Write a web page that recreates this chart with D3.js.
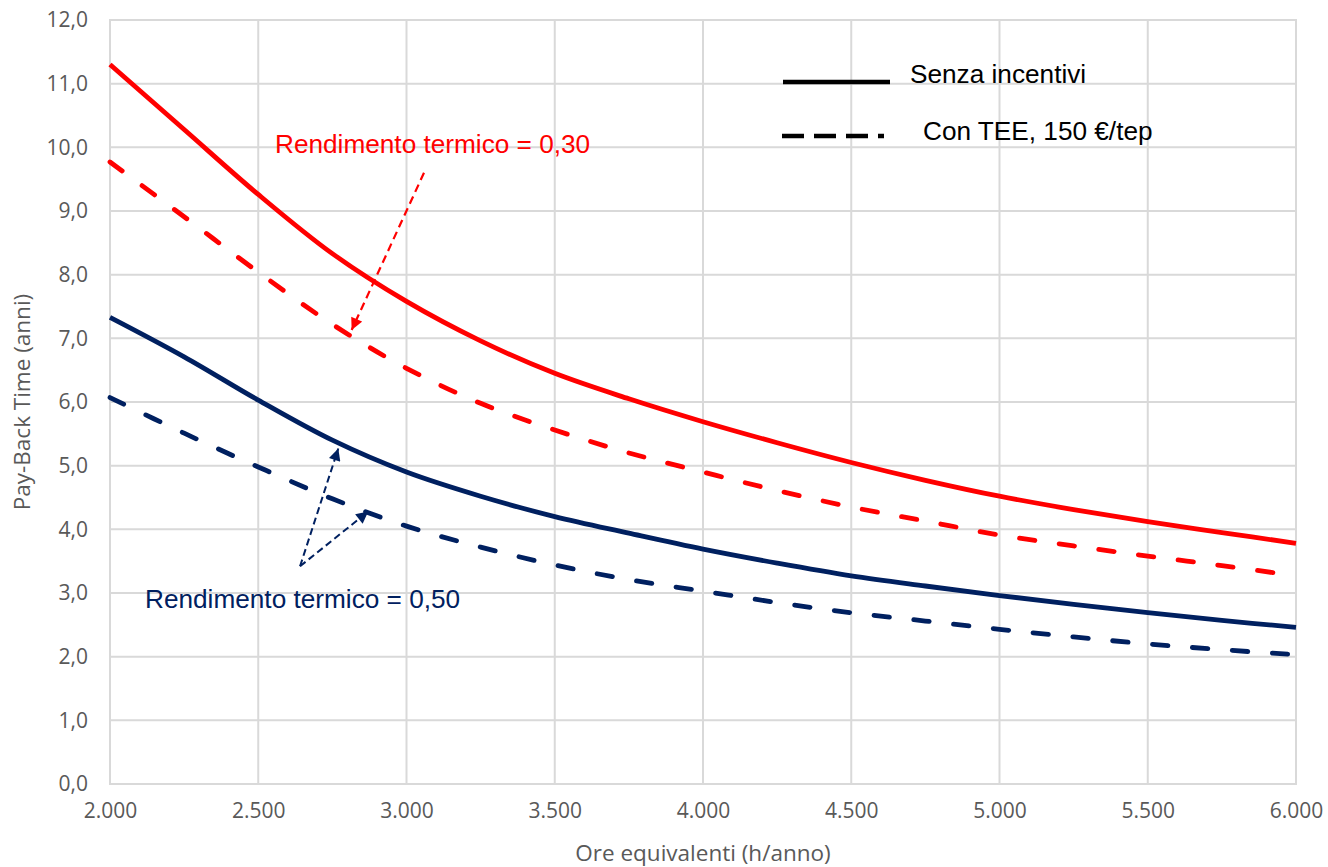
<!DOCTYPE html>
<html>
<head>
<meta charset="utf-8">
<script src="https://cdn.jsdelivr.net/npm/d3@7/dist/d3.min.js"></script>
<style>
  html, body { margin: 0; padding: 0; background: #fff; }
  svg { display: block; }
  .tick-label { font-family: "Open Sans", sans-serif; fill: #595959; }
  .note { font-family: "Liberation Sans", Arial, sans-serif; }
</style>
</head>
<body>
<svg id="chart" width="1328" height="867"></svg>
<script>
// Ore equivalenti annue (h/anno)
const hours = [2000, 2250, 2500, 2750, 3000, 3250, 3500, 3750, 4000, 4250, 4500, 4750, 5000, 5250, 5500, 5750, 6000];

// Pay-back time (anni) — rendimento termico 0,30
const pbt30Senza = [11.30, 10.28, 9.26, 8.33, 7.58, 6.96, 6.45, 6.05, 5.69, 5.36, 5.05, 4.77, 4.52, 4.31, 4.12, 3.95, 3.78];
const pbt30Tee   = [9.77, 8.91, 8.04, 7.22, 6.53, 5.98, 5.56, 5.20, 4.90, 4.61, 4.35, 4.13, 3.91, 3.74, 3.58, 3.43, 3.27];

// Pay-back time (anni) — rendimento termico 0,50
const pbt50Senza = [7.33, 6.71, 6.03, 5.40, 4.90, 4.52, 4.20, 3.94, 3.69, 3.47, 3.27, 3.11, 2.96, 2.82, 2.69, 2.57, 2.46];
const pbt50Tee   = [6.07, 5.51, 4.98, 4.48, 4.05, 3.72, 3.44, 3.21, 3.03, 2.85, 2.69, 2.56, 2.43, 2.31, 2.20, 2.11, 2.03];

// Tick values
const xTicks = [2000, 2500, 3000, 3500, 4000, 4500, 5000, 5500, 6000];
const yTicks = [0, 1, 2, 3, 4, 5, 6, 7, 8, 9, 10, 11, 12];

// Legend and annotation text
const legendLabels = ["Senza incentivi", "Con TEE, 150 €/tep"];
const noteLabels = ["Rendimento termico = 0,30", "Rendimento termico = 0,50"];
const xTitle = "Ore equivalenti (h/anno)";
const yTitle = "Pay-Back Time (anni)";

// Annotation arrows in data units: [from hours, from years, to hours, to years]
const arrows30 = [[3059, 9.6, 2815, 7.13]];
const arrows50 = [[2641, 3.42, 2770, 5.27], [2641, 3.42, 2871, 4.28]];

const RED = "#ff0000";
const NAVY = "#002060";

const itLocale = d3.formatLocale({ decimal: ",", thousands: ".", grouping: [3], currency: ["€", ""] });
const fmtX = itLocale.format(",.0f");
const fmtY = itLocale.format(".1f");

const svg = d3.select("#chart");
const x = d3.scaleLinear().domain([2000, 6000]).range([110, 1296]);
const y = d3.scaleLinear().domain([0, 12]).range([784, 20]);

// Grid
const grid = svg.append("g");
grid.selectAll("line.v").data(xTicks).join("line")
  .attr("x1", d => x(d)).attr("x2", d => x(d))
  .attr("y1", y(0)).attr("y2", y(12))
  .attr("stroke", "#d9d9d9").attr("stroke-width", 2);
grid.selectAll("line.h").data(yTicks).join("line")
  .attr("x1", x(2000) - 1).attr("x2", x(6000) + 1)
  .attr("y1", d => y(d)).attr("y2", d => y(d))
  .attr("stroke", "#d9d9d9").attr("stroke-width", 2);

// Axes (labels only; lines come from the grid)
const xAxis = svg.append("g").attr("transform", `translate(0,${y(0)})`)
  .call(d3.axisBottom(x).tickValues(xTicks).tickFormat(fmtX).tickSize(0).tickPadding(19));
const yAxis = svg.append("g").attr("transform", `translate(${x(2000)},0)`)
  .call(d3.axisLeft(y).tickValues(yTicks).tickFormat(fmtY).tickSize(0).tickPadding(22));
[xAxis, yAxis].forEach(a => {
  a.select(".domain").remove();
  a.selectAll("text").attr("class", "tick-label").attr("font-size", 21);
});

svg.append("text").attr("class", "tick-label")
  .attr("x", (x(2000) + x(6000)) / 2).attr("y", 861)
  .attr("text-anchor", "middle").attr("font-size", 22.5).text(xTitle);
svg.append("text").attr("class", "tick-label")
  .attr("transform", `translate(30,${(y(0) + y(12)) / 2}) rotate(-90)`)
  .attr("text-anchor", "middle").attr("font-size", 22.5).text(yTitle);

// Curves
const line = d3.line().x(d => x(d[0])).y(d => y(d[1])).curve(d3.curveCatmullRom.alpha(0.5));
const series = [
  { values: pbt30Senza, color: RED, dashed: false },
  { values: pbt30Tee, color: RED, dashed: true },
  { values: pbt50Senza, color: NAVY, dashed: false },
  { values: pbt50Tee, color: NAVY, dashed: true }
];
svg.append("g").selectAll("path").data(series).join("path")
  .attr("d", s => line(hours.map((h, i) => [h, s.values[i]])))
  .attr("fill", "none")
  .attr("stroke", s => s.color)
  .attr("stroke-width", 4.8)
  .attr("stroke-linecap", s => s.dashed ? "round" : "butt")
  .attr("stroke-dasharray", s => s.dashed ? "15.5,24.5" : null);

// Arrow heads
const defs = svg.append("defs");
[["head-red", RED], ["head-navy", NAVY]].forEach(([id, c]) => {
  defs.append("marker").attr("id", id)
    .attr("viewBox", "0 0 10 10").attr("refX", 10).attr("refY", 5)
    .attr("markerWidth", 14).attr("markerHeight", 12)
    .attr("markerUnits", "userSpaceOnUse").attr("orient", "auto")
    .append("path").attr("d", "M0,0 L10,5 L0,10 Z").attr("fill", c);
});

function drawArrows(list, color, head, width, dash) {
  svg.append("g").selectAll("line").data(list).join("line")
    .attr("x1", d => x(d[0])).attr("y1", d => y(d[1]))
    .attr("x2", d => x(d[2])).attr("y2", d => y(d[3]))
    .attr("stroke", color).attr("stroke-width", width)
    .attr("stroke-dasharray", dash)
    .attr("marker-end", `url(#${head})`);
}
drawArrows(arrows30, RED, "head-red", 2.2, "8,5");
drawArrows(arrows50, NAVY, "head-navy", 2, "7,4");

// Annotations
svg.append("text").attr("class", "note").attr("x", 275).attr("y", 153)
  .attr("font-size", 26.2).attr("fill", RED).text(noteLabels[0]);
svg.append("text").attr("class", "note").attr("x", 145).attr("y", 608)
  .attr("font-size", 26.2).attr("fill", NAVY).text(noteLabels[1]);

// Legend
const legend = svg.append("g");
legend.append("line").attr("x1", 783).attr("x2", 890).attr("y1", 82).attr("y2", 82)
  .attr("stroke", "#000").attr("stroke-width", 4.5);
legend.append("line").attr("x1", 782).attr("x2", 884).attr("y1", 136).attr("y2", 136)
  .attr("stroke", "#000").attr("stroke-width", 4.5).attr("stroke-dasharray", "22,10");
legend.append("text").attr("class", "note").attr("x", 910).attr("y", 83)
  .attr("font-size", 26.2).attr("fill", "#000").text(legendLabels[0]);
legend.append("text").attr("class", "note").attr("x", 923).attr("y", 140)
  .attr("font-size", 26.2).attr("fill", "#000").text(legendLabels[1]);
</script>
</body>
</html>
